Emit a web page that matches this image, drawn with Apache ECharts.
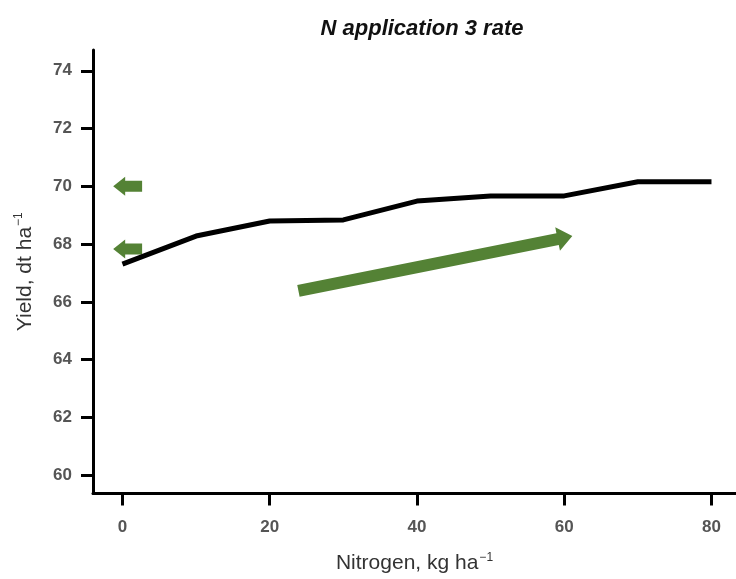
<!DOCTYPE html>
<html>
<head>
<meta charset="utf-8">
<script src="https://cdn.jsdelivr.net/npm/echarts@6/dist/echarts.min.js"></script>
<style>
  html, body { margin: 0; padding: 0; background: #fff; }
  #main { width: 736px; height: 579px; }
</style>
</head>
<body>
<div id="main"></div>
<script>
// nitrogen rate (kg/ha) and yield (dt/ha)
var nitrogen = [0, 10, 20, 30, 40, 50, 60, 70, 80];
var yieldVals = [67.31, 68.28, 68.8, 68.84, 69.49, 69.67, 69.67, 70.16, 70.16];
var xTicks = [0, 20, 40, 60, 80];
var yTicks = [60, 62, 64, 66, 68, 70, 72, 74];
// arrows: [xFrom, yFrom, xTo, yTo] in data units
var smallArrows = [[2.67, 70, -1.26, 70], [2.67, 67.83, -1.26, 67.83]];
var bigArrow = [[23.9, 66.38, 61.1, 68.28]];

var green = '#548235';
var chart = echarts.init(document.getElementById('main'));

function arrowItem(shaftW, headW, headL) {
  return function (params, api) {
    var p1 = api.coord([api.value(0), api.value(1)]);
    var p2 = api.coord([api.value(2), api.value(3)]);
    var dx = p2[0] - p1[0], dy = p2[1] - p1[1];
    var len = Math.sqrt(dx * dx + dy * dy);
    var ux = dx / len, uy = dy / len;
    var nx = -uy, ny = ux;
    var bx = p2[0] - ux * headL, by = p2[1] - uy * headL;
    var pts = [
      [p1[0] + nx * shaftW / 2, p1[1] + ny * shaftW / 2],
      [bx + nx * shaftW / 2, by + ny * shaftW / 2],
      [bx + nx * headW / 2, by + ny * headW / 2],
      [p2[0], p2[1]],
      [bx - nx * headW / 2, by - ny * headW / 2],
      [bx - nx * shaftW / 2, by - ny * shaftW / 2],
      [p1[0] - nx * shaftW / 2, p1[1] - ny * shaftW / 2]
    ];
    return { type: 'polygon', shape: { points: pts }, style: { fill: green } };
  };
}

var labelStyle = { color: '#555', fontWeight: 'bold', fontSize: 17, fontFamily: 'Liberation Sans' };
var nameRich = {
  a: { fontSize: 21, color: '#333', fontFamily: 'Liberation Sans', lineHeight: 24 },
  s: { fontSize: 12, color: '#333', fontFamily: 'Liberation Sans', verticalAlign: 'top', padding: [0, 0, 12, 1] }
};

chart.setOption({
  animation: false,
  title: {
    text: 'N application 3 rate',
    left: 417, top: 13, textAlign: 'center',
    textStyle: { fontSize: 22, fontWeight: 'bold', fontStyle: 'italic', color: '#111', fontFamily: 'Liberation Sans' }
  },
  grid: { left: 93, right: 0, top: 50, bottom: 83 },
  xAxis: {
    type: 'value', min: -4, max: 83.33,
    axisLine: { onZero: false, lineStyle: { color: '#000', width: 3 } },
    axisTick: { show: true, length: 12, lineStyle: { color: '#000', width: 3 }, customValues: xTicks },
    axisLabel: Object.assign({ margin: 25, customValues: xTicks }, labelStyle),
    splitLine: { show: false },
    name: '{a|Nitrogen, kg ha}{s|\u22121}',
    nameLocation: 'middle', nameGap: 58,
    nameTextStyle: { rich: nameRich }
  },
  yAxis: {
    type: 'value', min: 59.37, max: 74.72,
    axisLine: { show: true, onZero: false, lineStyle: { color: '#000', width: 3 } },
    axisTick: { show: true, length: 12, lineStyle: { color: '#000', width: 3 }, customValues: yTicks },
    axisLabel: Object.assign({ margin: 21, customValues: yTicks }, labelStyle),
    splitLine: { show: false },
    name: '{a|Yield, dt ha}{s|\u22121}',
    nameLocation: 'middle', nameGap: 56, nameRotate: 90,
    nameTextStyle: { rich: nameRich }
  },
  series: [
    {
      type: 'line',
      data: nitrogen.map(function (n, i) { return [n, yieldVals[i]]; }),
      symbol: 'none',
      lineStyle: { color: '#000', width: 5 },
      z: 3
    },
    {
      type: 'custom',
      data: smallArrows,
      renderItem: arrowItem(11, 19, 12),
      clip: false,
      z: 2
    },
    {
      type: 'custom',
      data: bigArrow,
      renderItem: arrowItem(12, 24, 15),
      clip: false,
      z: 2
    }
  ]
});
</script>
</body>
</html>
